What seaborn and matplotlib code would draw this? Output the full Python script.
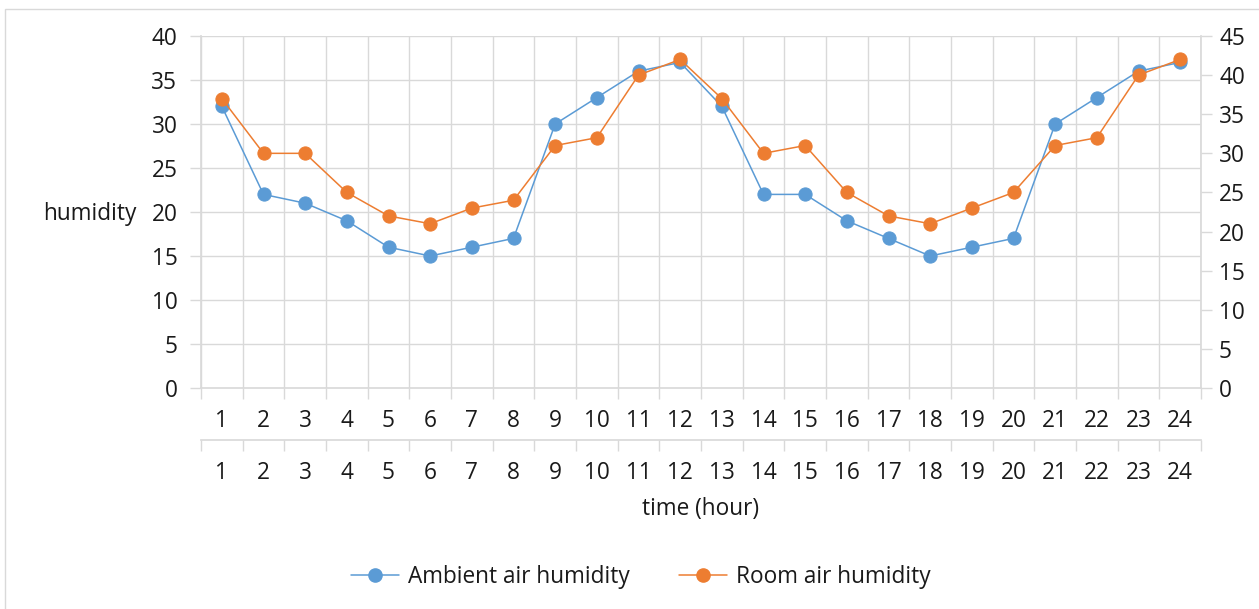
import matplotlib
matplotlib.use("Agg")
import matplotlib.pyplot as plt
import seaborn as sns
import numpy as np
import pandas as pd
from matplotlib.lines import Line2D
from matplotlib.patches import Rectangle

# Hourly humidity readings
hours = list(range(1, 25))
ambient_humidity = [32, 22, 21, 19, 16, 15, 16, 17, 30, 33, 36, 37,
                    32, 22, 22, 19, 17, 15, 16, 17, 30, 33, 36, 37]
room_humidity = [37, 30, 30, 25, 22, 21, 23, 24, 31, 32, 40, 42,
                 37, 30, 31, 25, 22, 21, 23, 25, 31, 32, 40, 42]
left_ticks = list(range(0, 41, 5))
right_ticks = list(range(0, 46, 5))

sns.set_theme(style="white")
plt.rcParams["font.family"] = ["Open Sans", "DejaVu Sans"]

BLUE = "#5B9BD5"
ORANGE = "#ED7D31"
GRID = "#D9D9D9"
TEXT = "#1a1a1a"
FS = 16.3

W, H = 1259, 609
fig = plt.figure(figsize=(W / 100, H / 100), dpi=100)
fig.patch.set_facecolor("white")

# outer chart frame
fig.patches.append(Rectangle((5 / W, -0.1), 1.2, 1 - 9 / H + 0.1,
                             transform=fig.transFigure, fill=False,
                             edgecolor=GRID, linewidth=1.0))

ax = fig.add_axes([201 / W, 1 - 388 / H, 1000 / W, 352 / H])
df = pd.DataFrame({"hour": hours, "ambient": ambient_humidity, "room": room_humidity})

sns.lineplot(data=df, x="hour", y="ambient", ax=ax, color=BLUE, marker="o",
             markersize=9.5, markeredgecolor=BLUE, linewidth=1.1, zorder=3)
ax2 = ax.twinx()
sns.lineplot(data=df, x="hour", y="room", ax=ax2, color=ORANGE, marker="o",
             markersize=9.5, markeredgecolor=ORANGE, linewidth=1.1, zorder=3)

for a in (ax, ax2):
    a.set_xlim(0.5, 24.5)
    a.set_xlabel("")
    a.set_ylabel("")
    for s in a.spines.values():
        s.set_visible(False)

ax.set_ylim(0, 40)
ax2.set_ylim(0, 45)
ax.set_yticks(left_ticks)
ax2.set_yticks(right_ticks)

# grid: horizontal at left ticks, vertical at category boundaries
boundaries = np.arange(0.5, 25, 1)
for y in left_ticks[1:]:
    ax.axhline(y, color=GRID, linewidth=1.0, zorder=0)
for x in boundaries:
    ax.axvline(x, color=GRID, linewidth=1.0, zorder=0)

ax.spines["left"].set_visible(True)
ax.spines["left"].set_color(GRID)
ax.spines["bottom"].set_visible(True)
ax.spines["bottom"].set_color(GRID)
ax2.spines["right"].set_visible(True)
ax2.spines["right"].set_color(GRID)

ax.tick_params(axis="y", which="major", length=8, color=GRID, width=1.0,
               labelsize=FS, labelcolor=TEXT, pad=9, left=True)
ax2.tick_params(axis="y", which="major", length=8, color=GRID, width=1.0,
                labelsize=FS, labelcolor=TEXT, pad=5, right=True)

# first category row
ax.set_xticks(boundaries)
ax.set_xticklabels([])
ax.set_xticks(hours, minor=True)
ax.set_xticklabels([str(h) for h in hours], minor=True)
ax.tick_params(axis="x", which="major", length=8, color=GRID, width=1.0, bottom=True)
ax.tick_params(axis="x", which="minor", length=0, labelsize=FS,
               labelcolor=TEXT, pad=15)

# second category row
sec = ax.secondary_xaxis(-52 / 352)
sec.spines["bottom"].set_color(GRID)
sec.set_xticks(boundaries)
sec.set_xticklabels([])
sec.set_xticks(hours, minor=True)
sec.set_xticklabels([str(h) for h in hours], minor=True)
sec.tick_params(axis="x", which="major", length=8, color=GRID, width=1.0)
sec.tick_params(axis="x", which="minor", length=0, labelsize=FS,
                labelcolor=TEXT, pad=15)

fig.text(701 / W, 1 - 509 / H, "time (hour)", ha="center", va="center",
         fontsize=FS, color=TEXT)
fig.text(90 / W, 1 - 214 / H, "humidity", ha="center", va="center",
         fontsize=FS, color=TEXT)

handles = [
    Line2D([0], [0], color=BLUE, marker="o", markersize=9.5, linewidth=1.1),
    Line2D([0], [0], color=ORANGE, marker="o", markersize=9.5, linewidth=1.1),
]
fig.legend(handles, ["Ambient air humidity", "Room air humidity"],
           loc="center", bbox_to_anchor=(641 / W, 1 - 577 / H), ncol=2,
           frameon=False, fontsize=FS, handlelength=2.1, columnspacing=2.2,
           handletextpad=0.4, labelcolor=TEXT)

fig.savefig("out.png", dpi=100)
